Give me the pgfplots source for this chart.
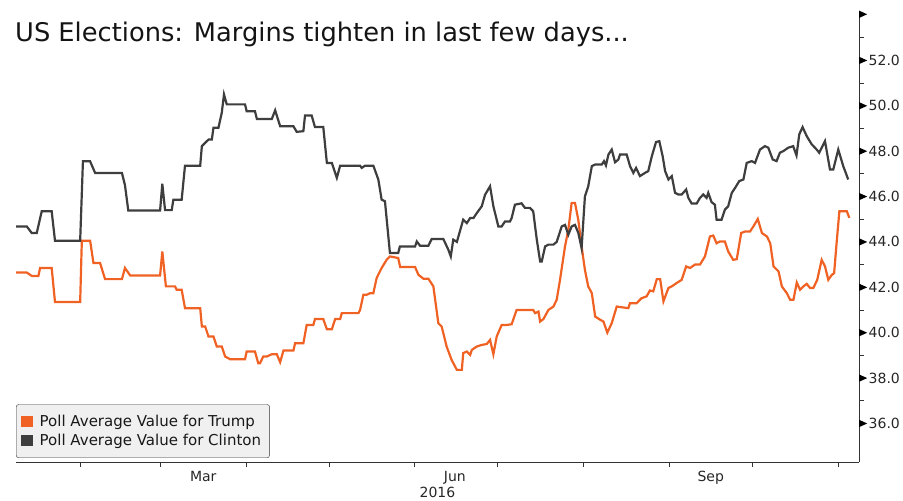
\documentclass[border=0pt]{standalone}
\usepackage{pgfplots}
\pgfplotsset{compat=1.18}
\usepackage{fontspec}
\setmainfont{DejaVu Sans}
\definecolor{trump}{RGB}{240,98,36}
\definecolor{clinton}{RGB}{62,62,62}
\newcommand\tri{\tikz[baseline=-0.36em]\fill[black] (0,-3.6bp)--(8bp,0)--(0,3.6bp)--cycle;\hspace{1.5bp}}
\pgfplotstableread{
day v
7.8 44.68
11.7 44.68
13.5 44.39
15.3 44.39
17.1 45.35
20.7 45.35
21.9 44.05
31.0 44.05
32.0 47.55
34.6 47.55
36.4 47.04
46.1 47.04
47.2 46.5
48.4 45.38
59.9 45.38
60.7 46.56
61.7 45.40
64.1 45.40
64.7 45.86
67.7 45.86
68.9 47.36
74.4 47.36
75.0 48.22
77.4 48.51
78.6 48.51
79.2 49.03
81.0 49.03
82.2 49.69
83.0 50.50
84.0 50.06
90.6 50.06
91.2 49.76
94.2 49.76
94.9 49.42
100.3 49.42
101.5 49.80
103.3 49.10
108.1 49.10
109.3 48.85
111.7 48.88
112.3 49.57
114.7 49.57
115.9 49.06
118.9 49.06
120.2 47.48
122.0 47.48
123.8 46.82
125.0 47.36
132.2 47.36
132.8 47.26
134.0 47.36
137.0 47.36
138.8 46.75
140.0 45.86
141.2 45.79
143.0 43.51
146.0 43.51
146.6 43.80
152.1 43.80
152.7 44.02
153.9 43.83
156.9 43.83
158.1 44.13
162.3 44.13
164.1 43.66
165.0 43.36
165.9 44.10
167.2 44.00
169.5 44.98
170.8 44.83
172.0 45.05
173.2 45.05
174.4 45.27
176.2 45.57
177.4 46.08
179.2 46.45
180.4 45.57
182.2 44.68
183.4 44.68
184.6 44.90
186.4 44.90
187.0 45.05
188.2 45.64
190.6 45.70
191.8 45.50
193.6 45.50
194.8 45.35
196.1 44.10
197.3 43.14
197.9 43.14
199.1 43.80
200.3 43.88
202.1 43.88
203.3 44.00
205.1 44.68
206.3 44.75
207.5 44.32
208.7 44.68
209.9 44.75
211.1 44.40
212.3 43.73
213.5 46.01
214.7 46.45
216.0 47.34
217.2 47.41
219.6 47.41
220.4 47.56
221.1 47.37
222.0 47.85
223.2 48.07
224.4 47.51
225.6 47.63
226.2 47.85
228.6 47.85
229.8 47.34
231.0 47.04
232.0 47.26
233.4 46.90
235.2 47.04
236.4 47.12
237.7 47.78
239.2 48.40
240.4 48.44
241.6 47.78
242.5 47.12
243.7 46.75
244.9 46.90
246.1 46.16
247.3 46.09
248.5 46.09
250.1 46.31
250.9 45.94
252.1 45.69
253.9 45.69
255.1 45.94
256.3 46.09
257.5 45.94
258.1 46.16
259.3 45.75
260.5 45.64
261.1 44.98
262.9 44.98
264.1 45.42
265.3 45.57
266.6 46.16
267.8 46.38
269.3 46.68
270.8 46.75
272.0 47.48
273.8 47.56
275.0 47.48
276.8 48.07
278.6 48.22
279.8 48.15
281.4 47.63
282.8 47.56
284.0 47.93
285.2 48.00
287.0 48.15
288.8 48.22
290.0 47.81
291.0 48.74
292.2 49.06
293.7 48.66
295.5 48.30
297.3 48.07
298.2 47.93
300.3 48.44
302.1 47.19
303.3 47.19
305.1 48.07
306.9 47.34
308.7 46.75
}\clintontable
\pgfplotstableread{
day v
7.8 42.65
11.7 42.65
13.5 42.50
15.9 42.50
16.5 42.85
20.7 42.85
21.9 41.35
31.0 41.35
31.6 44.05
34.6 44.05
35.8 43.07
38.2 43.07
40.0 42.36
46.1 42.36
47.2 42.85
49.1 42.52
59.9 42.52
60.7 43.58
62.0 42.04
65.3 42.04
65.9 41.89
67.7 41.89
68.9 41.08
74.4 41.08
75.0 40.27
76.2 40.27
77.4 39.83
79.2 39.83
80.4 39.39
82.2 39.39
83.4 38.95
85.2 38.83
90.6 38.83
91.2 39.17
94.2 39.17
95.4 38.65
96.0 38.65
97.2 38.95
98.5 38.95
100.3 39.05
102.1 39.05
103.3 38.70
104.5 39.21
108.1 39.21
108.7 39.53
111.7 39.53
112.9 40.34
115.3 40.34
115.9 40.60
118.9 40.60
120.2 40.15
122.0 40.15
123.2 40.60
125.0 40.60
125.6 40.86
131.6 40.86
132.2 41.00
133.4 41.67
134.6 41.67
135.8 41.74
137.0 41.74
138.2 42.41
140.0 42.85
141.8 43.21
143.0 43.36
146.0 43.29
146.7 42.89
152.1 42.89
153.3 42.55
155.1 42.38
156.9 42.38
158.7 42.04
160.5 40.42
161.7 40.27
163.5 39.39
165.3 38.80
167.2 38.36
169.0 38.36
169.5 39.10
170.8 39.17
172.0 39.02
172.6 39.24
174.4 39.39
176.2 39.46
178.0 39.50
179.2 39.68
180.4 39.05
181.6 39.83
183.4 40.34
185.2 40.34
187.0 40.37
188.8 41.00
194.8 41.00
195.5 40.86
196.7 40.93
197.3 40.49
198.5 40.60
200.3 41.00
202.1 41.15
203.3 41.45
204.5 42.33
206.3 43.80
207.5 44.54
208.7 45.72
209.9 45.72
211.1 44.98
212.3 43.80
213.5 42.77
214.7 42.04
216.0 41.74
217.2 40.71
219.0 40.57
220.2 40.49
221.6 40.00
223.2 40.42
225.0 41.15
229.2 41.08
229.8 41.30
232.2 41.30
234.0 41.52
235.8 41.60
237.0 41.86
238.2 41.82
239.5 42.36
240.7 42.36
241.9 41.38
243.7 41.97
244.9 42.04
246.7 42.19
248.5 42.33
250.1 42.92
251.5 42.85
253.3 43.00
255.1 43.00
256.9 43.36
258.7 44.24
259.9 44.28
261.1 43.94
262.3 44.02
264.1 44.02
265.3 43.58
267.1 43.21
268.4 43.24
270.0 44.39
271.4 44.46
273.2 44.46
274.4 44.68
276.0 45.01
277.5 44.39
279.3 44.24
280.5 43.94
281.7 42.92
283.5 42.70
284.7 42.04
286.5 41.74
287.7 41.45
288.9 41.45
290.1 42.21
291.3 41.89
292.5 42.04
293.7 42.15
294.9 41.97
296.1 41.97
297.5 42.33
299.1 43.21
300.3 42.92
301.5 42.33
302.8 42.55
303.6 42.62
304.6 44.10
305.5 45.35
308.2 45.35
309.1 45.06
}\trumptable
\begin{document}
\begin{tikzpicture}
\path[use as bounding box] (0,0) rectangle (903bp,501bp);
\node[anchor=base west, inner sep=0pt, font=\fontsize{25.7bp}{30bp}\selectfont, text=black!92] at (15bp,459bp) {US Elections: Margins tighten in last few days...};
\begin{axis}[
  at={(16bp,39bp)}, anchor=south west,
  width=843bp, height=447bp, scale only axis,
  xmin=7.8, xmax=312.6, ymin=34.3, ymax=54,
  axis x line*=bottom, axis y line*=right,
  axis line style={black!80, line width=0.9bp},
  tick align=outside,
  major tick length=5bp, minor tick length=5bp,
  tick style={black!80, line width=0.9bp},
  xtick={31,60,91,121,152,182,213,244,274,305},
  xticklabels={},
  extra x ticks={75.5,166.5,259},
  extra x tick labels={Mar,Jun,Sep},
  extra x tick style={major tick length=0pt, tick style={draw=none}},
  xticklabel style={font=\fontsize{14bp}{16bp}\selectfont, text=black!85, yshift=-6bp},
  xlabel={2016},
  xlabel style={font=\fontsize{14bp}{16bp}\selectfont, text=black!85, yshift=10bp},
  ytick={36,38,...,54},
  yticklabels={\tri 36.0,\tri 38.0,\tri 40.0,\tri 42.0,\tri 44.0,\tri 46.0,\tri 48.0,\tri 50.0,\tri 52.0,\tri},
  minor y tick num=1,
  major y tick style={draw=none},
  minor y tick style={draw=black!80},
  yticklabel style={font=\fontsize{14bp}{16bp}\selectfont, text=black!85, anchor=west, inner xsep=0pt, xshift=-5bp},
  legend style={at={(0,0.009)}, anchor=south west, fill=black!6, draw=black!80, rounded corners=2.5bp,
    font=\fontsize{15bp}{17bp}\selectfont, text=black!90, inner xsep=4.5bp, inner ysep=8.5bp,
    row sep=2.5bp},
  legend cell align=left,
  legend image code/.code={\fill[#1,draw=none,sharp corners] (0bp,-5.5bp) rectangle (12bp,5.5bp); \path[draw=none,fill=none] (0bp,0bp) -- (17bp,0bp);},
]
\addplot[trump, line width=2.2bp, sharp plot] table[x=day, y=v] {\trumptable};
\addlegendentry{Poll Average Value for Trump}
\addplot[clinton, line width=2.2bp, sharp plot] table[x=day, y=v] {\clintontable};
\addlegendentry{Poll Average Value for Clinton\hspace*{2bp}\null}
\end{axis}
\end{tikzpicture}
\end{document}
